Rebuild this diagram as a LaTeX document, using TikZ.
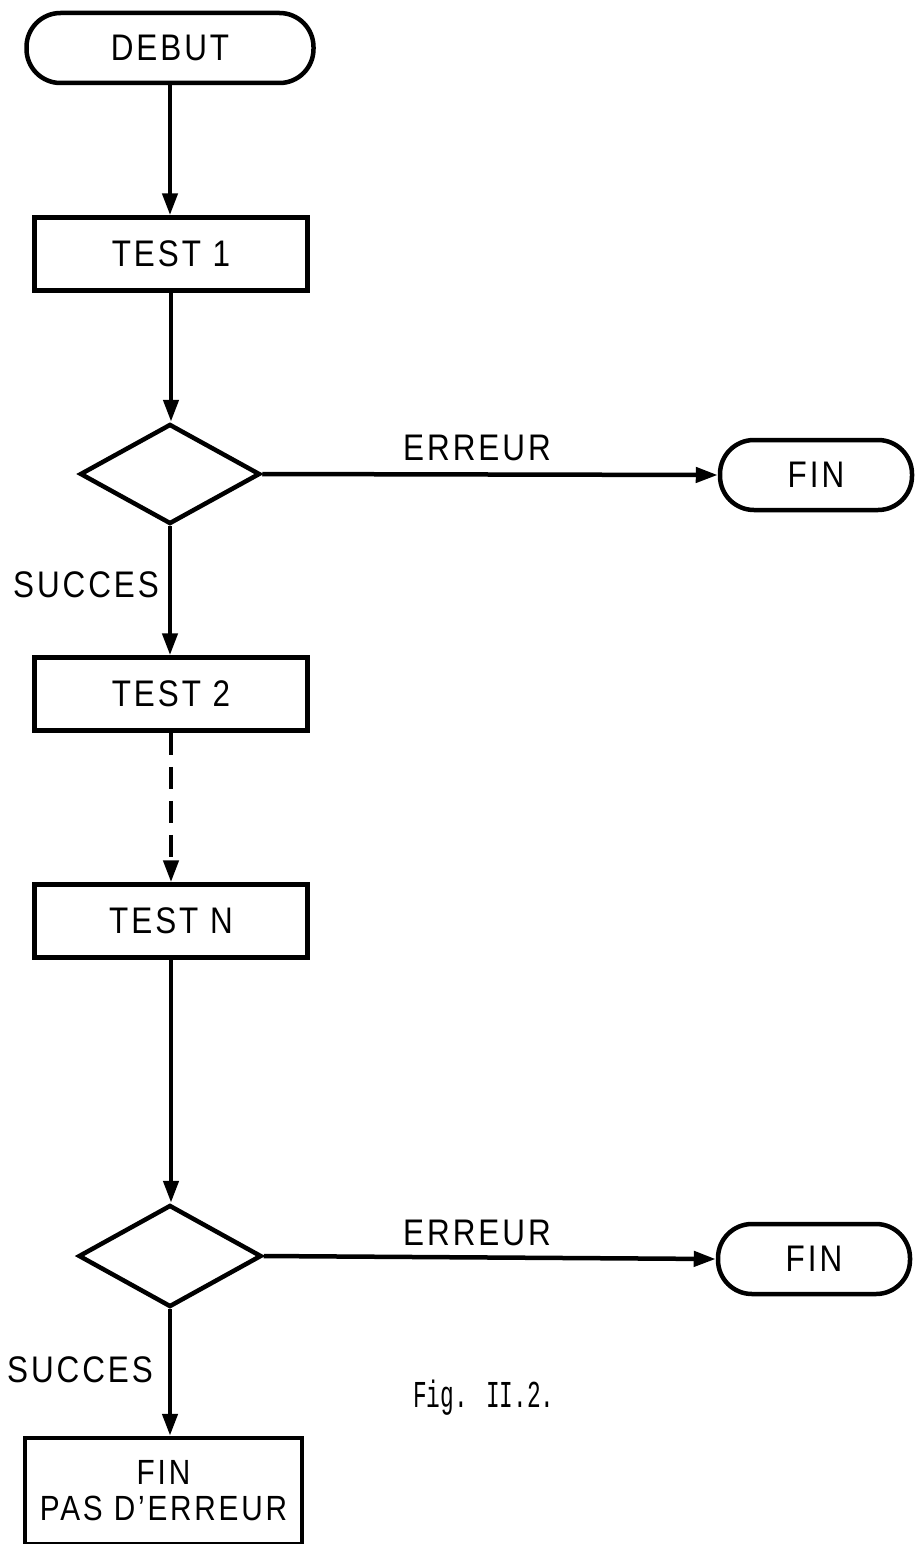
\documentclass[tikz,border=0pt]{standalone}
\usepackage{fontspec}
\setmainfont[FakeStretch=0.85,LetterSpace=8]{Liberation Sans}
\newfontfamily\figfont[FakeStretch=0.6]{Liberation Mono}
\usetikzlibrary{shapes.geometric,arrows.meta}
\begin{document}
\begin{tikzpicture}[x=1pt,y=1pt,
  line width=4.5pt,
  every node/.style={font=\fontsize{37}{40}\selectfont},
  term/.style={draw,rectangle,rounded corners=34pt,minimum height=70pt,inner sep=0pt},
  proc/.style={draw,rectangle,minimum width=273pt,minimum height=73pt,inner sep=0pt},
  cond/.style={draw,diamond,minimum width=180pt,minimum height=100pt,inner sep=0pt},
  flow/.style={-{Triangle[length=22pt,width=15pt]}},
  lbl/.style={inner sep=0pt}]
\useasboundingbox (0,0) rectangle (916,-1544);
\clip (0,0) rectangle (916,-1544);

% column of steps
\node[term,minimum width=287pt] (debut) at (170,-48) {DEBUT};
\node[proc] (t1) at (171,-254) {TEST 1};
\node[cond] (d1) at (170,-474) {};
\node[proc] (t2) at (171,-694) {TEST 2};
\node[proc] (tn) at (171,-921) {TEST N};
\node[cond,minimum width=183pt,minimum height=102pt] (d2) at (170,-1256) {};
\node[draw,rectangle,minimum width=277pt,minimum height=106pt,inner sep=0pt,
      align=center,font=\fontsize{35}{38}\selectfont] (ok) at (163.5,-1491)
      {FIN\\[-2pt]PAS D'ERREUR};

% error exits
\node[term,minimum width=192pt] (fin1) at (816,-475) {FIN};
\node[term,minimum width=192pt] (fin2) at (814,-1259) {FIN};

% connectors
\draw[flow] (debut) -- (debut |- t1.north);
\draw[flow] (t1) -- (t1 |- d1.north);
\draw[flow] (d1.east) -- (fin1.west);
\draw[flow] (d1) -- (d1 |- t2.north);
\draw[flow,dash pattern=on 22pt off 12pt] (t2) -- (t2 |- tn.north);
\draw[flow] (tn) -- (tn |- d2.north);
\draw[flow] (d2.east) -- (fin2.west);
\draw[flow] (d2) -- (d2 |- ok.north);

% branch labels
\node[lbl] (e1) at (477,-448) {ERREUR};
\node[lbl] (e2) at (477,-1233) {ERREUR};
\node[lbl] (s1) at (86,-585) {SUCCES};
\node[lbl] (s2) at (80,-1370) {SUCCES};

% caption
\node[lbl,font=\figfont\fontsize{38}{42}\selectfont] (cap) at (484,-1398) {Fig. II.2.};
\end{tikzpicture}
\end{document}
